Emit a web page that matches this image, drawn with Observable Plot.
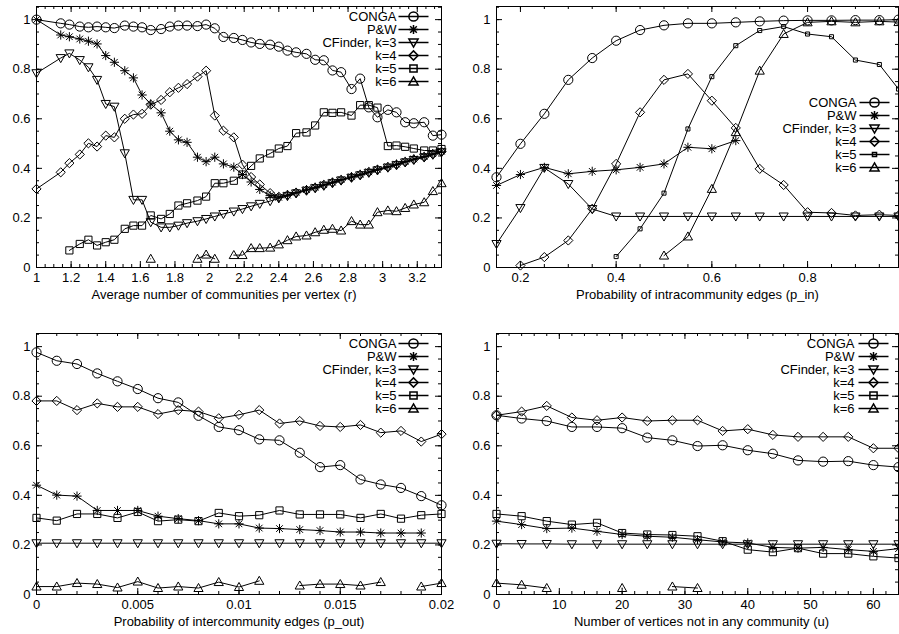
<!DOCTYPE html>
<html><head><meta charset="utf-8">
<script src="https://cdn.jsdelivr.net/npm/d3@7"></script>
<script src="https://cdn.jsdelivr.net/npm/@observablehq/plot@0.6"></script>
<style>
html,body{margin:0;padding:0;background:#fff;}
#wrap{position:relative;width:899px;height:634px;overflow:hidden;background:#fff;}
#wrap > div{position:absolute;}
svg{display:block;}
</style></head><body><div id="wrap"></div>
<script>
// ---------------- DATA ----------------
const seriesNames = ["CONGA", "P&W", "CFinder, k=3", "k=4", "k=5", "k=6"];
const yTicks = [0, 0.2, 0.4, 0.6, 0.8, 1];

// Panel 1: Average number of communities per vertex (r)
const p1Title = "Average number of communities per vertex (r)";
const p1Ticks = [1, 1.2, 1.4, 1.6, 1.8, 2, 2.2, 2.4, 2.6, 2.8, 3, 3.2];
const p1X = [1.00,1.14,1.19,1.25,1.30,1.35,1.40,1.45,1.51,1.56,1.61,1.66,1.72,1.77,1.82,1.87,1.93,1.98,2.03,2.08,2.14,2.19,2.24,2.29,2.35,2.40,2.45,2.50,2.56,2.61,2.66,2.71,2.76,2.82,2.87,2.92,2.97,3.03,3.08,3.13,3.18,3.24,3.29,3.34];
const p1Conga = [1.00,0.985,0.98,0.972,0.969,0.972,0.969,0.966,0.976,0.972,0.969,0.958,0.962,0.972,0.976,0.976,0.974,0.98,0.965,0.93,0.926,0.918,0.908,0.902,0.899,0.891,0.875,0.868,0.862,0.838,0.836,0.795,0.788,0.72,0.762,0.646,0.606,0.636,0.626,0.586,0.582,0.586,0.532,0.536];
const p1PW = [1.00,0.938,0.931,0.922,0.913,0.902,0.855,0.828,0.794,0.765,0.696,0.66,0.624,0.55,0.515,0.505,0.445,0.427,0.445,0.418,0.405,0.375,0.345,0.315,0.29,0.283,0.292,0.303,0.314,0.324,0.334,0.344,0.355,0.366,0.376,0.386,0.396,0.407,0.417,0.428,0.438,0.448,0.459,0.469];
const p1K3 = [0.784,0.845,0.864,0.837,0.808,0.757,0.66,0.649,0.461,0.273,0.273,0.183,0.162,0.162,0.169,0.179,0.187,0.196,0.206,0.216,0.226,0.236,0.247,0.257,0.268,0.279,0.288,0.299,0.31,0.32,0.33,0.34,0.351,0.362,0.372,0.382,0.392,0.403,0.413,0.424,0.434,0.444,0.455,0.465];
const p1K4 = [0.317,0.384,0.421,0.456,0.501,0.488,0.532,0.525,0.6,0.617,0.62,0.657,0.676,0.707,0.725,0.74,0.77,0.794,0.613,0.552,0.525,0.415,0.365,0.335,0.30,0.285,0.293,0.302,0.312,0.322,0.333,0.343,0.353,0.364,0.374,0.385,0.395,0.405,0.415,0.426,0.436,0.446,0.457,0.467];
const p1K5 = [null,null,0.069,0.095,0.112,0.089,0.102,0.112,0.156,0.169,0.169,0.21,0.196,0.216,0.25,0.259,0.27,0.286,0.34,0.34,0.35,0.375,0.41,0.44,0.46,0.48,0.49,0.542,0.545,0.573,0.626,0.624,0.626,0.613,0.655,0.655,0.645,0.49,0.492,0.487,0.48,0.472,0.472,0.478];
const p1K6 = [null,null,null,null,null,null,null,null,null,null,null,0.035,null,null,null,null,0.035,0.052,0.035,null,0.05,0.05,0.078,0.078,0.08,0.093,0.11,0.125,0.129,0.142,0.152,0.156,0.149,0.187,0.173,0.173,0.223,0.23,0.227,0.24,0.254,0.263,0.308,0.34];

// Panel 2: Probability of intracommunity edges (p_in)
const p2Title = "Probability of intracommunity edges (p_in)";
const p2Ticks = [0.2, 0.4, 0.6, 0.8];
const p2X = [0.15,0.2,0.25,0.3,0.35,0.4,0.45,0.5,0.55,0.6,0.65,0.7,0.75,0.8,0.85,0.9,0.95,0.99];
const p2Conga = [0.364,0.499,0.62,0.757,0.845,0.915,0.958,0.977,0.985,0.985,0.989,0.993,0.996,0.997,0.997,0.998,0.998,1.0];
const p2PW = [0.331,0.375,0.404,0.378,0.388,0.394,0.404,0.418,0.485,0.479,0.512,null,null,null,null,null,null,null];
const p2K3 = [0.095,0.24,0.402,0.337,0.236,0.206,0.206,0.206,0.206,0.206,0.206,0.206,0.206,0.206,0.206,0.206,0.206,0.206];
const p2K4 = [null,0.008,0.042,0.109,0.237,0.418,0.626,0.757,0.781,0.673,0.563,0.398,0.333,0.223,0.22,0.21,0.213,0.21];
const p2K5 = [null,null,null,null,null,0.044,0.156,0.3,0.559,0.77,0.895,0.956,0.972,0.942,0.931,0.837,0.819,0.72];
const p2K6 = [null,null,null,null,null,null,null,0.048,0.125,0.317,0.546,0.794,0.942,0.989,0.993,0.989,0.993,0.99];

// Panel 3: Probability of intercommunity edges (p_out)
const p3Title = "Probability of intercommunity edges (p_out)";
const p3Ticks = [0, 0.005, 0.01, 0.015, 0.02];
const p3X = [0,0.001,0.002,0.003,0.004,0.005,0.006,0.007,0.008,0.009,0.01,0.011,0.012,0.013,0.014,0.015,0.016,0.017,0.018,0.019,0.02];
const p3Conga = [0.977,0.943,0.93,0.892,0.86,0.829,0.792,0.775,0.721,0.676,0.663,0.626,0.622,0.572,0.514,0.522,0.464,0.444,0.43,0.397,0.36];
const p3PW = [0.441,0.401,0.397,0.339,0.339,0.339,0.316,0.306,0.298,0.285,0.285,0.268,0.266,0.262,0.258,0.252,0.252,0.248,0.248,0.248,null];
const p3K3 = [0.207,0.207,0.207,0.207,0.207,0.207,0.207,0.207,0.207,0.207,0.207,0.207,0.207,0.207,0.207,0.207,0.207,0.207,0.207,0.207,0.207];
const p3K4 = [0.781,0.781,0.744,0.771,0.757,0.757,0.728,0.744,0.738,0.711,0.725,0.744,0.69,0.7,0.68,0.676,0.684,0.653,0.66,0.617,0.647];
const p3K5 = [0.309,0.298,0.325,0.325,0.309,0.333,0.296,0.302,0.296,0.329,0.316,0.32,0.339,0.323,0.323,0.323,0.309,0.325,0.306,0.32,0.325];
const p3K6 = [0.032,0.032,0.046,0.042,0.028,0.052,0.026,0.032,0.026,0.05,0.03,0.055,null,0.036,0.042,0.042,0.036,0.05,null,0.032,0.046];

// Panel 4: Number of vertices not in any community (u)
const p4Title = "Number of vertices not in any community (u)";
const p4Ticks = [0, 10, 20, 30, 40, 50, 60];
const p4X = [0,4,8,12,16,20,24,28,32,36,40,44,48,52,56,60,64];
const p4Conga = [0.723,0.71,0.7,0.676,0.676,0.671,0.633,0.622,0.599,0.602,0.582,0.568,0.541,0.536,0.538,0.522,0.514];
const p4PW = [0.296,0.282,0.266,0.268,0.255,0.242,0.235,0.231,0.221,0.212,0.208,0.19,0.187,0.19,0.181,0.174,0.185];
const p4K3 = [0.205,0.204,0.204,0.203,0.203,0.203,0.203,0.203,0.203,0.203,0.203,0.203,0.203,0.203,0.203,0.203,0.203];
const p4K4 = [0.723,0.738,0.761,0.714,0.703,0.714,0.7,0.703,0.703,0.66,0.667,0.644,0.636,0.636,0.636,0.59,0.59];
const p4K5 = [0.325,0.316,0.296,0.282,0.289,0.248,0.242,0.24,0.235,0.215,0.181,0.171,0.187,0.165,0.165,0.154,0.147];
const p4K6 = [0.046,0.039,0.026,null,null,0.026,null,0.032,0.026,null,null,null,null,null,null,null,null];

// ---------------- SYMBOLS ----------------
const rad = s => Math.sqrt(s / Math.PI);
const SYM = {
  circle: {draw(c, s) { const r = rad(s); c.moveTo(r, 0); c.arc(0, 0, r, 0, 2 * Math.PI); c.closePath(); }},
  star: {draw(c, s) { const r = rad(s), d = r * 0.72;
    c.moveTo(-r, 0); c.lineTo(r, 0); c.moveTo(0, -r); c.lineTo(0, r);
    c.moveTo(-d, -d); c.lineTo(d, d); c.moveTo(-d, d); c.lineTo(d, -d); }},
  tdown: {draw(c, s) { const r = rad(s); c.moveTo(0, r); c.lineTo(r, -0.75 * r); c.lineTo(-r, -0.75 * r); c.closePath(); }},
  diamond: {draw(c, s) { const r = rad(s); c.moveTo(0, -r); c.lineTo(r, 0); c.lineTo(0, r); c.lineTo(-r, 0); c.closePath(); }},
  square: {draw(c, s) { const h = rad(s) * 0.78; c.moveTo(-h, -h); c.lineTo(h, -h); c.lineTo(h, h); c.lineTo(-h, h); c.closePath(); }},
  tup: {draw(c, s) { const r = rad(s); c.moveTo(0, -r); c.lineTo(r, 0.75 * r); c.lineTo(-r, 0.75 * r); c.closePath(); }}
};
const hline = {draw(c) { c.moveTo(-15, 0); c.lineTo(15, 0); }};
const symList = [SYM.circle, SYM.star, SYM.tdown, SYM.diamond, SYM.square, SYM.tup];

const fmt = d => String(+d.toFixed(4));
const ROW = 13;

function makePanel(cfg) {
  const fw = cfg.width - cfg.mL - cfg.mR, fh = cfg.height - cfg.mT - cfg.mB;
  const rows = [];
  cfg.series.forEach((vals, si) => vals.forEach((v, i) => rows.push({x: cfg.xs[i], y: v, s: seriesNames[si]})));
  const marks = [
    Plot.frame({stroke: "black", strokeWidth: 1}),
    Plot.tickX(cfg.xMinor, {x: d => d, insetTop: fh - 3, stroke: "black"}),
    Plot.tickX(cfg.xMinor, {x: d => d, insetBottom: fh - 3, stroke: "black"}),
    Plot.tickX(cfg.xTicks, {x: d => d, insetTop: fh - 6, stroke: "black"}),
    Plot.tickX(cfg.xTicks, {x: d => d, insetBottom: fh - 6, stroke: "black"}),
    Plot.tickY(cfg.yMinor, {y: d => d, insetRight: fw - 3, stroke: "black"}),
    Plot.tickY(cfg.yMinor, {y: d => d, insetLeft: fw - 3, stroke: "black"}),
    Plot.tickY(yTicks, {y: d => d, insetRight: fw - 6, stroke: "black"}),
    Plot.tickY(yTicks, {y: d => d, insetLeft: fw - 6, stroke: "black"}),
    Plot.axisX({ticks: cfg.xTicks, tickFormat: fmt, tickSize: 0, tickPadding: 5, label: null}),
    Plot.axisY({ticks: yTicks, tickFormat: fmt, tickSize: 0, tickPadding: 6, label: null}),
    Plot.text([cfg.title], {text: d => d, frameAnchor: "bottom", lineAnchor: "middle", dy: 27, dx: cfg.titleDx || 0, fontSize: 13}),
    // legend labels as one multi-line text block
    Plot.text([seriesNames.join("\n")], {text: d => d, frameAnchor: "top-right", lineAnchor: "top", lineHeight: ROW / 13,
      dx: cfg.legTextDx, dy: cfg.legDy - 5, textAnchor: "end", fontSize: 13})
  ];
  seriesNames.forEach((name, si) => {
    const d = rows.filter(r => r.s === name);
    const r = (si === 4 && cfg.smallSq) ? 2.6 : 4.6;
    marks.push(Plot.line(d, {x: "x", y: "y", stroke: "black", strokeWidth: 1}));
    marks.push(Plot.dot(d.filter(p => p.y != null), {x: "x", y: "y", symbol: symList[si], r, stroke: "black", fill: "none", strokeWidth: 1}));
    const dy = cfg.legDy + si * ROW;
    marks.push(Plot.dot([0], {frameAnchor: "top-right", dx: cfg.legLineDx, dy, symbol: hline, r: 1, stroke: "black", fill: "none"}));
    marks.push(Plot.dot([0], {frameAnchor: "top-right", dx: cfg.legLineDx, dy, symbol: symList[si], r, stroke: "black", fill: "none"}));
  });
  const svg = Plot.plot({
    width: cfg.width, height: cfg.height,
    marginLeft: cfg.mL, marginRight: cfg.mR, marginTop: cfg.mT, marginBottom: cfg.mB,
    style: {fontFamily: "'Liberation Sans', Arial, Helvetica, sans-serif", fontSize: "13px", color: "black", background: "none", overflow: "visible"},
    x: {domain: cfg.xDomain, label: null},
    y: {domain: [0, 1.053], label: null},
    marks
  });
  const div = document.createElement("div");
  div.style.left = cfg.left + "px";
  div.style.top = cfg.top + "px";
  div.appendChild(svg);
  document.getElementById("wrap").appendChild(div);
}

const yMinor = d3.range(0, 1.051, 0.05);
const rowTop = {top: 0, height: 310, mT: 6, mB: 43};
const rowBot = {top: 317, height: 317, mT: 16, mB: 40};
const colLeft = {left: 0, width: 449, mL: 36, mR: 8};
const colRight = {left: 450, width: 449, mL: 46, mR: 1};

makePanel({...rowTop, ...colLeft, xDomain: [1, 3.34], xTicks: p1Ticks, xMinor: d3.range(1, 3.34, 0.05), yMinor,
  xs: p1X, series: [p1Conga, p1PW, p1K3, p1K4, p1K5, p1K6], title: p1Title, titleDx: -15,
  legDy: 10, legTextDx: -45, legLineDx: -28});
makePanel({...rowTop, ...colRight, xDomain: [0.15, 0.99], xTicks: p2Ticks, xMinor: d3.range(0.15, 0.99, 0.05), yMinor,
  xs: p2X, series: [p2Conga, p2PW, p2K3, p2K4, p2K5, p2K6], title: p2Title, smallSq: true,
  legDy: 96, legTextDx: -42, legLineDx: -24});
makePanel({...rowBot, ...colLeft, xDomain: [0, 0.02], xTicks: p3Ticks, xMinor: d3.range(0, 0.0201, 0.001), yMinor,
  xs: p3X, series: [p3Conga, p3PW, p3K3, p3K4, p3K5, p3K6], title: p3Title,
  legDy: 10, legTextDx: -45, legLineDx: -28});
makePanel({...rowBot, ...colRight, xDomain: [0, 64], xTicks: p4Ticks, xMinor: d3.range(0, 64.1, 2), yMinor,
  xs: p4X, series: [p4Conga, p4PW, p4K3, p4K4, p4K5, p4K6], title: p4Title, titleDx: 4,
  legDy: 10, legTextDx: -44, legLineDx: -25});
</script></body></html>
